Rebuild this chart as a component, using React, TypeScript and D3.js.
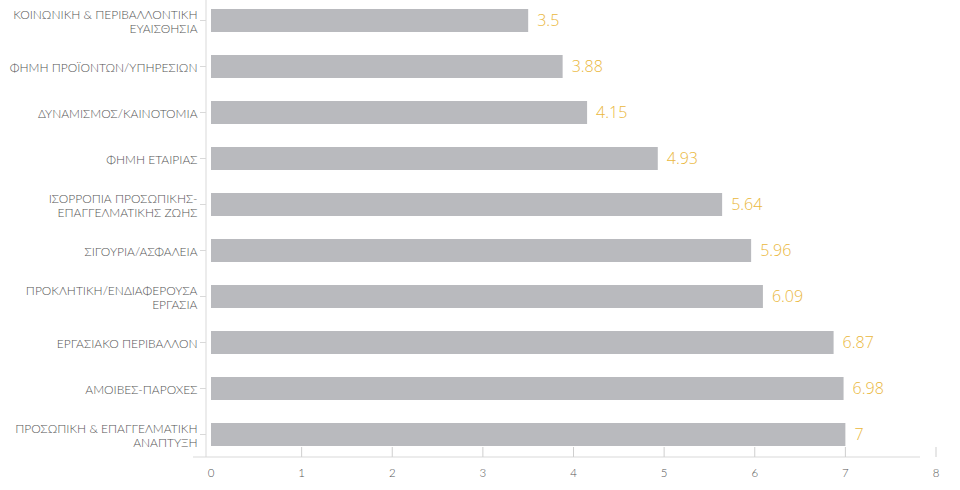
import React from "react";
import * as d3 from "d3";

const categories: string[] = [
  "ΚΟΙΝΩΝΙΚΗ & ΠΕΡΙΒΑΛΛΟΝΤΙΚΗ\nΕΥΑΙΣΘΗΣΙΑ",
  "ΦΗΜΗ ΠΡΟΪΟΝΤΩΝ/ΥΠΗΡΕΣΙΩΝ",
  "ΔΥΝΑΜΙΣΜΟΣ/ΚΑΙΝΟΤΟΜΙΑ",
  "ΦΗΜΗ ΕΤΑΙΡΙΑΣ",
  "ΙΣΟΡΡΟΠΙΑ ΠΡΟΣΩΠΙΚΗΣ-\nΕΠΑΓΓΕΛΜΑΤΙΚΗΣ ΖΩΗΣ",
  "ΣΙΓΟΥΡΙΑ/ΑΣΦΑΛΕΙΑ",
  "ΠΡΟΚΛΗΤΙΚΗ/ΕΝΔΙΑΦΕΡΟΥΣΑ\nΕΡΓΑΣΙΑ",
  "ΕΡΓΑΣΙΑΚΟ ΠΕΡΙΒΑΛΛΟΝ",
  "ΑΜΟΙΒΕΣ-ΠΑΡΟΧΕΣ",
  "ΠΡΟΣΩΠΙΚΗ & ΕΠΑΓΓΕΛΜΑΤΙΚΗ\nΑΝΑΠΤΥΞΗ",
];
const values: number[] = [3.5, 3.88, 4.15, 4.93, 5.64, 5.96, 6.09, 6.87, 6.98, 7];
const valueLabels: string[] = ["3.5", "3.88", "4.15", "4.93", "5.64", "5.96", "6.09", "6.87", "6.98", "7"];
const xTicks: number[] = [0, 1, 2, 3, 4, 5, 6, 7, 8];

export default function App() {
  const W = 960;
  const H = 490;
  const x = d3.scaleLinear().domain([0, 8]).range([211, 936]);
  const y = d3.scaleBand<string>().domain(categories).range([-2.5, 457.5]).paddingInner(0.5).paddingOuter(0.25);
  const axisY = 457;
  const yAxisX = 206;
  const labelFont = "Lato, 'Open Sans', sans-serif";

  return (
    <svg width={W} height={H} style={{ position: "absolute", left: 0, top: 0, background: "#fff" }}>
      <line x1={yAxisX} x2={yAxisX} y1={0} y2={axisY} stroke="#d9d9d9" strokeWidth={1} />
      <line x1={193} x2={920} y1={axisY} y2={axisY} stroke="#d9d9d9" strokeWidth={1} />
      {xTicks.slice(1).map((t) => (
        <line key={"t" + t} x1={x(t)} x2={x(t)} y1={axisY - 10} y2={axisY} stroke="#cfcfcf" strokeWidth={1} />
      ))}
      {xTicks.map((t) => (
        <text key={"l" + t} x={x(t)} y={477} textAnchor="middle" fontSize={11.5} fill="#555" fontFamily={labelFont} fontWeight={300}>
          {t}
        </text>
      ))}
      {categories.map((c, i) => {
        const y0 = y(c) as number;
        const bw = y.bandwidth();
        const cy = y0 + bw / 2;
        const lines = c.split("\n");
        const lh = 14;
        const startY = cy - ((lines.length - 1) * lh) / 2 + 5;
        return (
          <g key={c}>
            <line x1={200} x2={yAxisX} y1={cy} y2={cy} stroke="#d9d9d9" strokeWidth={1} />
            <rect x={x(0)} y={y0} width={x(values[i]) - x(0)} height={bw} fill="#b9babe" />
            <text
              x={x(values[i]) + 9}
              y={cy + 5.5}
              fontSize={16}
              fill="#eab73c"
              fontWeight={300}
              fontFamily="'Open Sans', sans-serif"
            >
              {valueLabels[i]}
            </text>
            <text textAnchor="end" fontSize={12} fill="#555" fontWeight={300} fontFamily={labelFont}>
              {lines.map((ln, k) => (
                <tspan key={k} x={197.5} y={startY + k * lh}>
                  {ln}
                </tspan>
              ))}
            </text>
          </g>
        );
      })}
    </svg>
  );
}
